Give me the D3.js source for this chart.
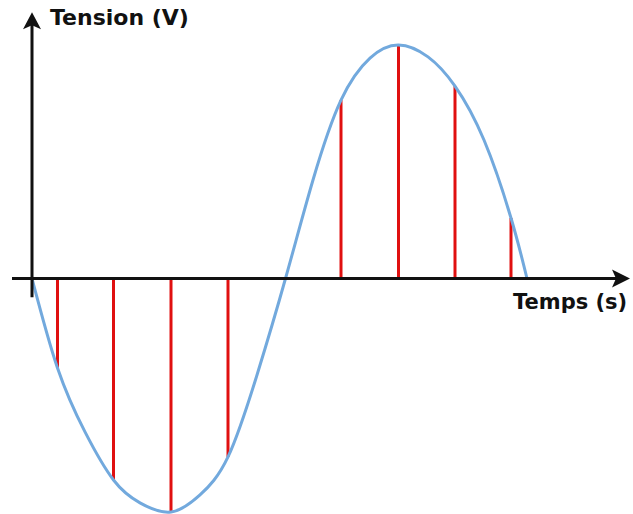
<!DOCTYPE html>
<html><head><meta charset="utf-8">
<script src="https://cdn.jsdelivr.net/npm/d3@7/dist/d3.min.js"></script>
<style>html,body{margin:0;padding:0;background:#fff;}svg{display:block;}</style>
</head><body>
<svg id="c" width="633" height="514"></svg>
<script>
// curve samples: time (arbitrary units) and tension (V)
const curveT = [0, 0.51, 1.06, 1.63, 2.16, 2.78, 3.36, 3.92, 4.5, 5.07, 5.62, 6.18, 6.76, 7.33, 7.92, 8.46, 9.04, 9.58, 9.9];
const curveV = [0, -3.83, -6.57, -8.63, -9.61, -10, -9.27, -7.64, -4.13, 0, 4.22, 7.64, 9.44, 10, 9.49, 8.24, 5.93, 2.59, 0];
// sampled values (red bars)
const sampleT = [0.51, 1.63, 2.78, 3.92, 6.18, 7.33, 8.46, 9.58];
const sampleV = [-3.83, -8.63, -10, -7.64, 7.64, 10, 8.24, 2.59];
const yTitle = "Tension (V)";
const xTitle = "Temps (s)";

const svg = d3.select("#c");
const x = d3.scaleLinear().domain([0, 12]).range([32, 632]);
const y = d3.scaleLinear().domain([-10, 10]).range([512, 45]);

// sampling bars
svg.append("g").selectAll("line").data(sampleT).join("line")
  .attr("x1", d => x(d)).attr("x2", d => x(d))
  .attr("y1", y(0)).attr("y2", (d, i) => y(sampleV[i]))
  .attr("stroke", "#e01010").attr("stroke-width", 3);

// curve
const pts = curveT.map((t, i) => [t, curveV[i]]);
svg.append("path").datum(pts)
  .attr("d", d3.line().x(d => x(d[0])).y(d => y(d[1])).curve(d3.curveNatural))
  .attr("fill", "none").attr("stroke", "#72a9dd").attr("stroke-width", 3);

// axes
const x0 = x(0), y0 = y(0);
const xEnd = x(11.96), yTop = y(11.4);
svg.append("line").attr("x1", x(-0.4)).attr("x2", xEnd - 8).attr("y1", y0).attr("y2", y0)
  .attr("stroke", "#111").attr("stroke-width", 3);
svg.append("line").attr("x1", x0).attr("x2", x0).attr("y1", y(-0.8)).attr("y2", yTop + 8)
  .attr("stroke", "#111").attr("stroke-width", 3);
// arrow heads
svg.append("path")
  .attr("d", `M${xEnd},${y0} L${xEnd-18},${y0-9} L${xEnd-14},${y0} L${xEnd-18},${y0+9} Z`)
  .attr("fill", "#111");
svg.append("path")
  .attr("d", `M${x0},${yTop} L${x0-9},${yTop+17} L${x0},${yTop+13} L${x0+9},${yTop+17} Z`)
  .attr("fill", "#111");

svg.append("text").attr("x", 50).attr("y", 25).text(yTitle)
  .attr("font-family", "DejaVu Sans").attr("font-weight", "bold").attr("font-size", 22).attr("fill", "#111");
svg.append("text").attr("x", 513).attr("y", 309).text(xTitle)
  .attr("font-family", "DejaVu Sans").attr("font-weight", "bold").attr("font-size", 21).attr("fill", "#111");
</script>
</body></html>
